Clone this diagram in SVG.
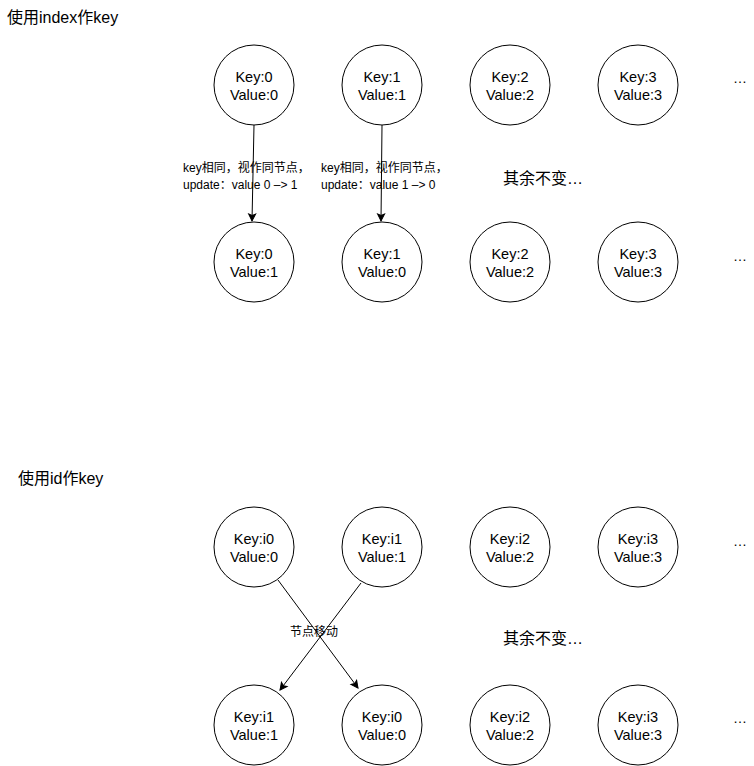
<svg xmlns="http://www.w3.org/2000/svg" width="754" height="766" viewBox="0 0 754 766">
<defs>
<marker id="arr" markerWidth="10" markerHeight="10" refX="8" refY="5" orient="auto" markerUnits="userSpaceOnUse">
<path d="M1,1.5 L8,5 L1,8.5 L2.5,5 Z" fill="#000" stroke="#000" stroke-width="1"/>
</marker>
</defs>
<style>
text{font-family:"Liberation Sans","Noto Sans CJK SC",Arial,sans-serif;fill:#000}
.n circle{fill:#fff;stroke:#000;stroke-width:1}
.n text{font-size:14.5px;text-anchor:middle}
.t{font-size:16px}
.d{font-size:14px}
.l{font-size:12px}
.e{stroke:#000;stroke-width:1;fill:none;marker-end:url(#arr)}
</style>
<rect width="754" height="766" fill="#fff"/>
<text class="t" x="7" y="23">使用index作key</text>
<text class="t" x="18" y="484">使用id作key</text>

<g id="connectors">
<path class="e" d="M254,125 L252,221"/>
<path class="e" d="M382,125 L381,221"/>
<path class="e" d="M278,580 L358,688"/>
<path class="e" d="M361,583 L280,690"/>
</g>

<g id="labels">
<text class="l" x="183" y="172">key相同，视作同节点，</text>
<text class="l" x="183" y="189">update：value 0 –&gt; 1</text>
<text class="l" x="321" y="172">key相同，视作同节点，</text>
<text class="l" x="321" y="189">update：value 1 –&gt; 0</text>
<text class="l" x="314" y="636" text-anchor="middle">节点移动</text>
<text class="t" x="503" y="184">其余不变…</text>
<text class="t" x="503" y="644">其余不变…</text>
<text class="d" x="740" y="83" text-anchor="middle">…</text>
<text class="d" x="740" y="261" text-anchor="middle">…</text>
<text class="d" x="740" y="546" text-anchor="middle">…</text>
<text class="d" x="740" y="723" text-anchor="middle">…</text>
</g>

<g id="r1c1" class="n"><circle cx="254" cy="85" r="40"/><text x="254" y="82">Key:0</text><text x="254" y="100">Value:0</text></g>
<g id="r1c2" class="n"><circle cx="382" cy="85" r="40"/><text x="382" y="82">Key:1</text><text x="382" y="100">Value:1</text></g>
<g id="r1c3" class="n"><circle cx="510" cy="85" r="40"/><text x="510" y="82">Key:2</text><text x="510" y="100">Value:2</text></g>
<g id="r1c4" class="n"><circle cx="638" cy="85" r="40"/><text x="638" y="82">Key:3</text><text x="638" y="100">Value:3</text></g>

<g id="r2c1" class="n"><circle cx="254" cy="262" r="40"/><text x="254" y="259">Key:0</text><text x="254" y="277">Value:1</text></g>
<g id="r2c2" class="n"><circle cx="382" cy="262" r="40"/><text x="382" y="259">Key:1</text><text x="382" y="277">Value:0</text></g>
<g id="r2c3" class="n"><circle cx="510" cy="262" r="40"/><text x="510" y="259">Key:2</text><text x="510" y="277">Value:2</text></g>
<g id="r2c4" class="n"><circle cx="638" cy="262" r="40"/><text x="638" y="259">Key:3</text><text x="638" y="277">Value:3</text></g>

<g id="r3c1" class="n"><circle cx="254" cy="547" r="40"/><text x="254" y="544">Key:i0</text><text x="254" y="562">Value:0</text></g>
<g id="r3c2" class="n"><circle cx="382" cy="547" r="40"/><text x="382" y="544">Key:i1</text><text x="382" y="562">Value:1</text></g>
<g id="r3c3" class="n"><circle cx="510" cy="547" r="40"/><text x="510" y="544">Key:i2</text><text x="510" y="562">Value:2</text></g>
<g id="r3c4" class="n"><circle cx="638" cy="547" r="40"/><text x="638" y="544">Key:i3</text><text x="638" y="562">Value:3</text></g>

<g id="r4c1" class="n"><circle cx="254" cy="725" r="40"/><text x="254" y="722">Key:i1</text><text x="254" y="740">Value:1</text></g>
<g id="r4c2" class="n"><circle cx="382" cy="725" r="40"/><text x="382" y="722">Key:i0</text><text x="382" y="740">Value:0</text></g>
<g id="r4c3" class="n"><circle cx="510" cy="725" r="40"/><text x="510" y="722">Key:i2</text><text x="510" y="740">Value:2</text></g>
<g id="r4c4" class="n"><circle cx="638" cy="725" r="40"/><text x="638" y="722">Key:i3</text><text x="638" y="740">Value:3</text></g>
</svg>
